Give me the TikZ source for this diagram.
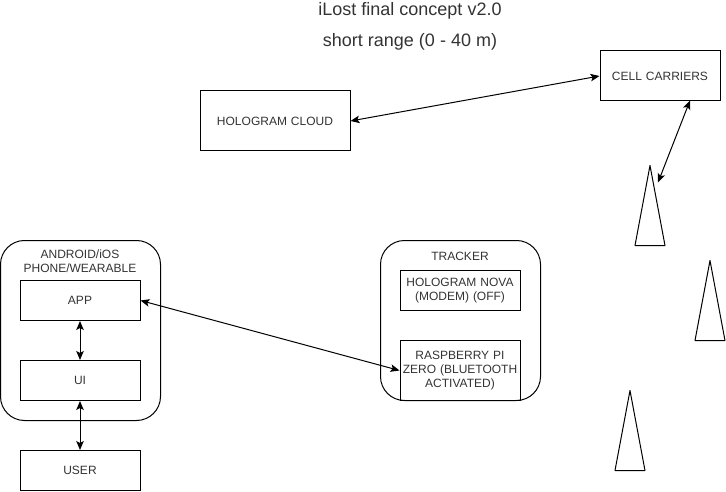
\documentclass[tikz,border=0pt]{standalone}
\usepackage{fontspec}
\setmainfont{Liberation Sans}
\usetikzlibrary{arrows.meta}
\begin{document}
\begin{tikzpicture}[x=1pt,y=1pt,line width=1pt,>={Stealth[length=9pt,width=7.5pt,inset=2pt]},
  every node/.style={font=\fontsize{12}{14}\selectfont,text=black!80,align=center,inner sep=0pt},
  box/.style={draw,text width=118pt,minimum width=120pt,minimum height=40pt},
  group/.style={draw,rounded corners=24pt,minimum width=160pt},
  tower/.style={draw,line join=round},
  link/.style={<->}]
  \useasboundingbox (0,0.5) rectangle (726,491.5);
  \node (title) at (410,480.5) {\fontsize{18}{22}\selectfont iLost final concept v2.0};
  \node (range) at (410,449.5) {\fontsize{18}{22}\selectfont short range (0 - 40 m)};
  \node (cloud) [box,minimum width=150pt,minimum height=60pt] at (275,370.5) {HOLOGRAM CLOUD};
  \node (cell) [box,minimum height=50pt] at (660,415.5) {CELL CARRIERS};
  % phone side
  \node (phone) [group,minimum height=180pt] at (80.5,161) {};
  \node (phonetext) at (80,230.5) {ANDROID/iOS\\PHONE/WEARABLE};
  \node (app) [box] at (80,191) {APP};
  \node (ui) [box,below of=app,node distance=80pt] {UI};
  \node (user) [box,below of=ui,node distance=90pt] {USER};
  % tracker side
  \node (tracker) [group,minimum height=160pt] at (460.5,171) {};
  \node (trackertext) at (460,235) {TRACKER};
  \node (nova) [box] at (460,201) {HOLOGRAM NOVA\\(MODEM) (OFF)};
  \node (pi) [box,minimum height=60pt] at (460,121) {RASPBERRY PI\\ZERO (BLUETOOTH\\ACTIVATED)};
  % towers
  \coordinate (towera) at (650,326);
  \coordinate (towerb) at (710,231);
  \coordinate (towerc) at (630,101);
  \draw[tower] (towera) -- ++(15,-80) -- ++(-30,0) -- cycle;
  \draw[tower] (towerb) -- ++(15,-80) -- ++(-30,0) -- cycle;
  \draw[tower] (towerc) -- ++(15,-80) -- ++(-30,0) -- cycle;
  \coordinate (cellfoot) at (690,391);
  \coordinate (towerside) at (658,309);
  \draw[link] (cloud.east) -- (cell.west);
  \draw[link] (cellfoot) -- (towerside);
  \draw[link] (app.east) -- (pi.west);
  \draw[link] (app) -- (ui);
  \draw[link] (ui) -- (user);
\end{tikzpicture}
\end{document}
